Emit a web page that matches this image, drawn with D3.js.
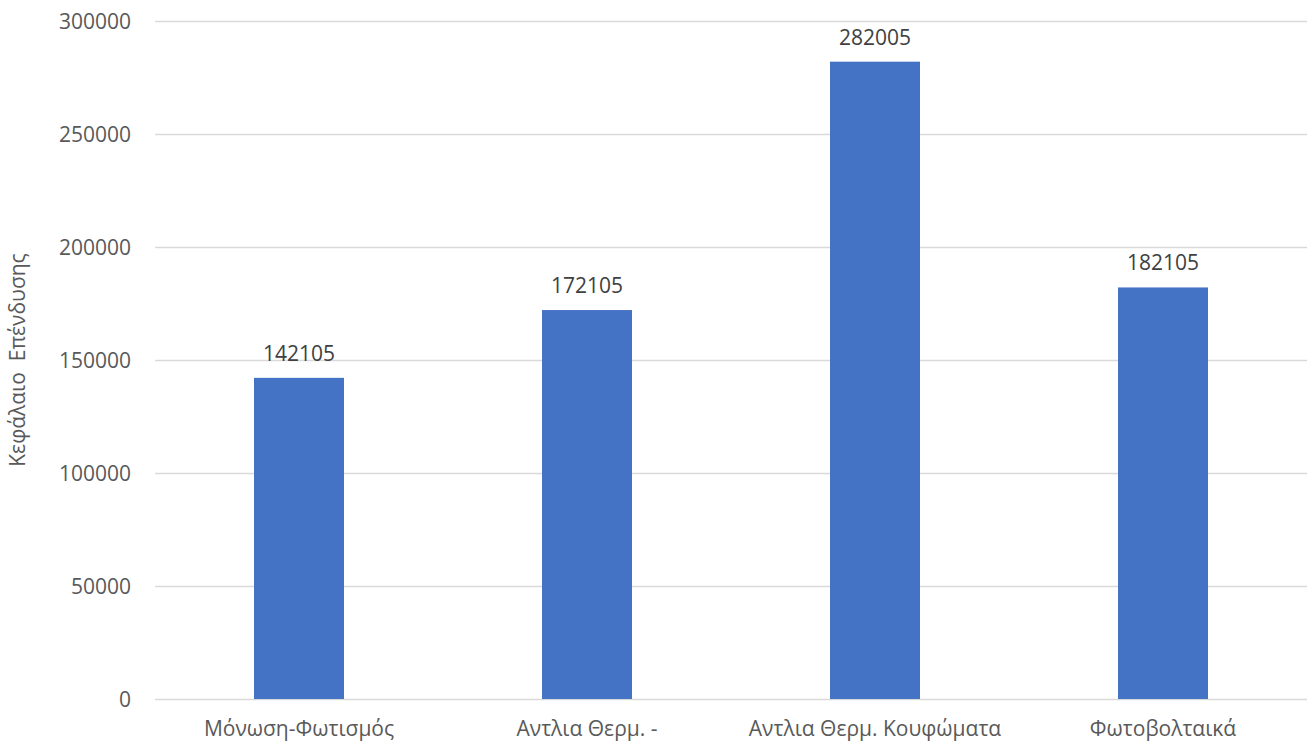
<!DOCTYPE html>
<html>
<head>
<meta charset="utf-8">
<script src="https://cdn.jsdelivr.net/npm/d3@7"></script>
<style>
  html, body { margin: 0; padding: 0; background: #fff; }
  svg { display: block; }
  svg text { font-family: "Open Sans", "Noto Sans", sans-serif; }
</style>
</head>
<body>
<svg id="chart" width="1316" height="744"></svg>
<script>
// Investment capital per scenario
const categories = ["Μόνωση-Φωτισμός", "Αντλια Θερμ. -", "Αντλια Θερμ. Κουφώματα", "Φωτοβολταικά"];
const capital = [142105, 172105, 282005, 182105];
const yTicks = [0, 50000, 100000, 150000, 200000, 250000, 300000];
const yTitle = "Κεφάλαιο  Επένδυσης";

const FONT = '"Open Sans", "Noto Sans", sans-serif';
const svg = d3.select("#chart");
const margin = { left: 155, right: 9, top: 21, bottom: 45 };
const W = 1316, H = 744;

const x = d3.scaleBand()
  .domain(categories)
  .range([margin.left, W - margin.right])
  .paddingInner(0.6875)
  .paddingOuter(0.34375);

const y = d3.scaleLinear()
  .domain([0, 300000])
  .range([H - margin.bottom, margin.top]);

// Gridlines and y tick labels
const yAxis = d3.axisLeft(y)
  .tickValues(yTicks)
  .tickSize(-(W - margin.right - margin.left))
  .tickPadding(24)
  .tickFormat(d3.format("d"));

const gy = svg.append("g")
  .attr("transform", `translate(${margin.left},0)`)
  .call(yAxis)
  .attr("font-family", FONT)
  .attr("font-size", 21);
gy.select(".domain").remove();
gy.selectAll(".tick line").attr("stroke", "#d9d9d9").attr("stroke-width", 1.3);
gy.selectAll(".tick text")
  .attr("fill", "#595959")
  .attr("dy", "0.35em");

// Bars
svg.append("g").selectAll("rect")
  .data(categories)
  .join("rect")
  .attr("x", d => x(d))
  .attr("width", x.bandwidth())
  .attr("y", (d, i) => y(capital[i]))
  .attr("height", (d, i) => y(0) - y(capital[i]))
  .attr("fill", "#4472c4");

// Value labels
svg.append("g")
  .attr("font-family", FONT)
  .attr("font-size", 21)
  .selectAll("text")
  .data(categories)
  .join("text")
  .attr("x", d => x(d) + x.bandwidth() / 2)
  .attr("y", (d, i) => y(capital[i]) - 17)
  .attr("text-anchor", "middle")
  .attr("fill", "#404040")
  .text((d, i) => capital[i]);

// Category axis
const xAxis = d3.axisBottom(x).tickSize(0).tickPadding(22);
const gx = svg.append("g")
  .attr("transform", `translate(0,${y(0)})`)
  .call(xAxis)
  .attr("font-family", FONT)
  .attr("font-size", 21);
gx.select(".domain").remove();
gx.selectAll(".tick text").attr("fill", "#595959");

// Y axis title
svg.append("text")
  .attr("transform", `translate(25,${(margin.top + H - margin.bottom) / 2}) rotate(-90)`)
  .attr("text-anchor", "middle")
  .attr("fill", "#595959")
  .attr("font-family", FONT)
  .attr("font-size", 21)
  .attr("xml:space", "preserve")
  .text(yTitle);
</script>
</body>
</html>
